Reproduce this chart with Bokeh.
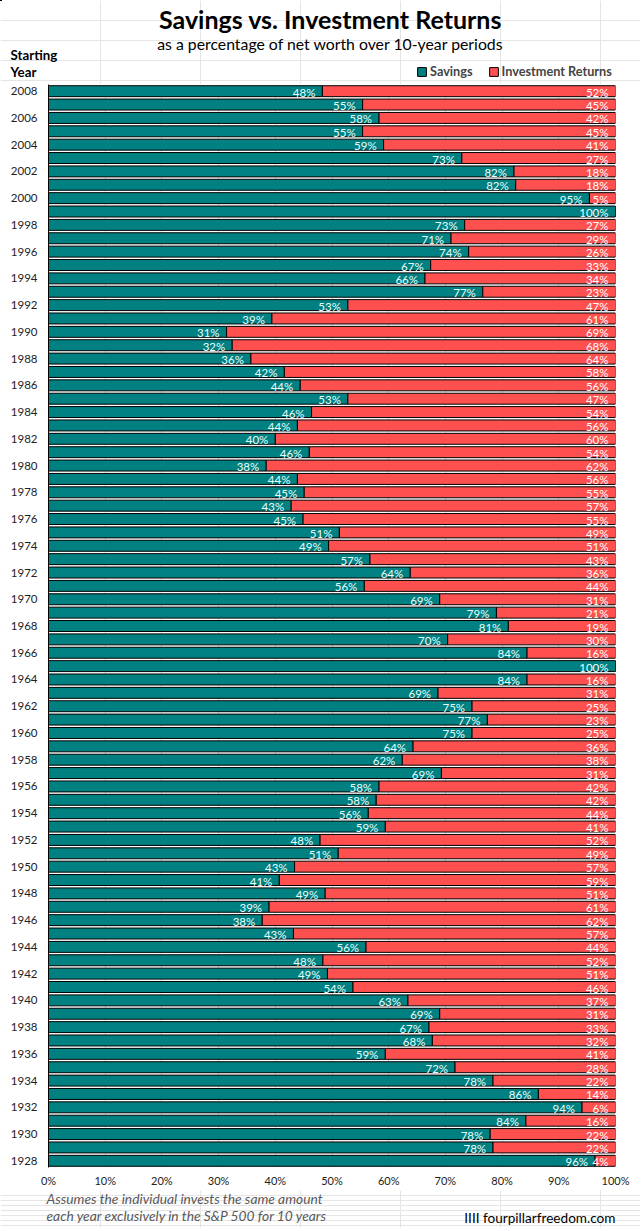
from bokeh.plotting import figure
from bokeh.layouts import column
from bokeh.models import (Range1d, Label, NumeralTickFormatter, FixedTicker,
                          ColumnDataSource, Legend, LegendItem)
from bokeh.core.properties import value
from bokeh.embed import file_html
from bokeh.resources import INLINE

# ---------------- data ----------------
years = list(range(2008, 1927, -1))
savings = [
    48.3, 55.4, 58.3, 55.4, 59.1, 72.9, 82.1, 82.4, 95.4, 100.0,   # 2008-1999
    73.4, 71.0, 74.1, 67.4, 66.4, 76.6, 52.8, 39.4, 31.4, 32.4,    # 1998-1989
    35.7, 41.6, 44.4, 52.8, 46.4, 43.9, 40.0, 46.0, 38.4, 43.9,    # 1988-1979
    45.1, 42.8, 44.9, 51.3, 49.4, 56.7, 63.8, 55.7, 69.0, 79.0,    # 1978-1969
    81.1, 70.4, 84.4, 100.0, 84.4, 68.7, 74.7, 77.4, 74.7, 64.3,   # 1968-1959
    62.4, 69.3, 58.3, 57.8, 56.4, 59.4, 47.9, 51.1, 43.4, 40.7,    # 1958-1949
    48.8, 38.9, 37.7, 43.2, 56.0, 48.4, 49.2, 53.7, 63.4, 69.0,    # 1948-1939
    67.1, 67.7, 59.4, 71.7, 78.4, 86.4, 94.1, 84.2, 77.9, 78.4,    # 1938-1929
    96.4,                                                          # 1928
]
investment = [round(100 - s, 1) for s in savings]
x_ticks = [0, 0.1, 0.2, 0.3, 0.4, 0.5, 0.6, 0.7, 0.8, 0.9, 1.0]
series_names = ["Savings", "Investment Returns"]

TEAL = "#008080"
RED = "#FF5050"
FONT = "Lato"
W = 640

n = len(years)
idx = list(range(n))
src = ColumnDataSource(dict(y=idx, s=[v / 100 for v in savings], one=[1.0] * n))
s_lab = ColumnDataSource(dict(
    y=[i for i in idx if savings[i] > 0],
    x=[savings[i] / 100 for i in idx if savings[i] > 0],
    t=[f"{round(savings[i])}%" for i in idx if savings[i] > 0],
))
i_lab = ColumnDataSource(dict(
    y=[i for i in idx if round(investment[i]) > 0],
    x=[1.0 for i in idx if round(investment[i]) > 0],
    t=[f"{round(investment[i])}%" for i in idx if round(investment[i]) > 0],
))


def blank(h):
    f = figure(width=W, height=h, output_backend="svg", toolbar_location=None,
               x_range=Range1d(0, W), y_range=Range1d(h, 0),
               x_axis_location=None, y_axis_location=None, min_border=0,
               frame_align=False)
    f.outline_line_color = None
    return f


def lab(f, text, x, y, size, style="normal", align="left", color="black"):
    f.add_layout(Label(x=x, y=y, text=text, text_font=FONT, text_font_size=size,
                       text_font_style=style, text_align=align,
                       text_baseline="middle", text_color=color))


# ---------------- header ----------------
TOP_H = 84
top = blank(TOP_H)
lab(top, "Savings vs. Investment Returns", 330, 18, "25px", "bold", "center")
lab(top, "as a percentage of net worth over 10-year periods", 330, 43, "15.8px", "normal", "center")
lab(top, "Starting", 10, 54, "13.3px", "bold")
lab(top, "Year", 10, 71, "13.3px", "bold")
# legend proxies: same data, mapped to a hidden range so they draw nothing visible
top.extra_y_ranges = {"hidden": Range1d(-1000, -900)}
lr_s = top.hbar(y="y", left=0, right="s", height=0.82, source=src, y_range_name="hidden",
                fill_color=TEAL, line_color="black")
lr_i = top.hbar(y="y", left="s", right="one", height=0.82, source=src, y_range_name="hidden",
                fill_color=RED, line_color="black")
legend = Legend(items=[LegendItem(label=series_names[0], renderers=[lr_s]),
                       LegendItem(label=series_names[1], renderers=[lr_i])],
                orientation="horizontal", location=(416, 5),
                glyph_width=11, glyph_height=11, label_height=12,
                label_text_font=FONT, label_text_font_style="bold",
                label_text_font_size="12.7px", label_standoff=3, spacing=15,
                padding=0, margin=0, border_line_color=None,
                background_fill_alpha=0)
top.add_layout(legend, "center")

# ---------------- main chart ----------------
FRAME_H = 1083
p = figure(width=W, height=FRAME_H + 23, output_backend="svg", toolbar_location=None,
           x_range=Range1d(0, 1), y_range=Range1d(n - 0.5, -0.5),
           min_border_left=48, min_border_right=W - 615, min_border_top=0,
           min_border_bottom=23, frame_align=False)
p.outline_line_color = None

r_s = p.hbar(y="y", left=0, right="s", height=0.82, source=src,
             fill_color=TEAL, line_color="black", line_width=1)
r_i = p.hbar(y="y", left="s", right="one", height=0.82, source=src,
             fill_color=RED, line_color="black", line_width=1)

p.text(x="x", y="y", text="t", source=s_lab, text_align="right",
       text_baseline="middle", x_offset=-7, y_offset=1, text_color="#EAFFFF",
       text_font_size="11.5px", text_font=value(FONT))
p.text(x="x", y="y", text="t", source=i_lab, text_align="right",
       text_baseline="middle", x_offset=-7, y_offset=1, text_color="white",
       text_font_size="11.5px", text_font=value(FONT))

p.xaxis.ticker = FixedTicker(ticks=x_ticks)
p.xaxis.formatter = NumeralTickFormatter(format="0%")
p.xaxis.axis_line_color = None
p.xaxis.major_tick_line_color = None
p.xaxis.minor_tick_line_color = None
p.xaxis.major_label_standoff = 0
p.xaxis.major_label_text_font = FONT
p.xaxis.major_label_text_font_size = "11px"
p.xaxis.major_label_text_color = "#222222"

p.yaxis.ticker = FixedTicker(ticks=idx[::2])
p.yaxis.major_label_overrides = {i: str(years[i]) for i in idx[::2]}
p.yaxis.axis_line_color = "black"
p.yaxis.major_tick_line_color = None
p.yaxis.minor_tick_line_color = None
p.yaxis.major_label_standoff = 5
p.yaxis.major_label_text_font = FONT
p.yaxis.major_label_text_font_size = "11.5px"
p.yaxis.major_label_text_color = "#222222"

p.xgrid.grid_line_color = "#D9D9D9"
p.ygrid.grid_line_color = None

# ---------------- footer ----------------
BOT_H = 38
bot = blank(BOT_H)
lab(bot, "Assumes the individual  invests the same amount", 46, 8, "13.8px", "italic", "left", "#595959")
lab(bot, "each year exclusively in the S&P 500 for 10 years", 46, 25, "13.8px", "italic", "left", "#595959")
lab(bot, "IIII fourpillarfreedom.com", 615, 27, "13.6px", "normal", "right", "black")

layout = column(top, p, bot, spacing=0)
open("out.html", "w").write(file_html(layout, INLINE))
